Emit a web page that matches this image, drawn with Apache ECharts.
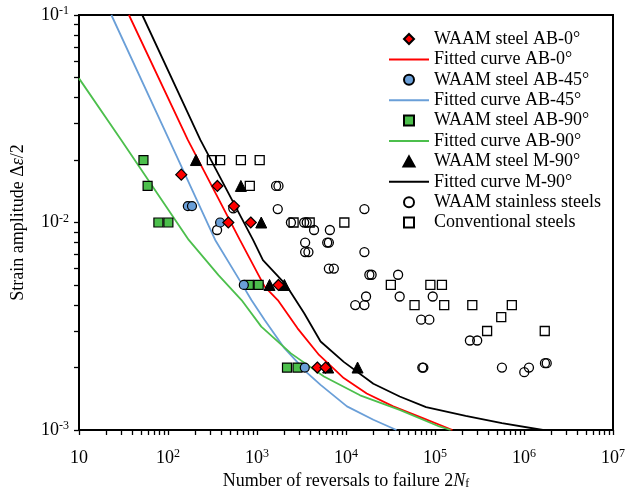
<!DOCTYPE html>
<html>
<head>
<meta charset="utf-8">
<script src="https://cdn.jsdelivr.net/npm/echarts@6/dist/echarts.min.js"></script>
<style>
html,body{margin:0;padding:0;background:#fff;}
#chart{width:628px;height:496px;}
</style>
</head>
<body>
<div id="chart"></div>
<script>
// ---- data (x = number of reversals 2Nf, y = strain amplitude) ----
const ab0Points = [[141,0.017],[359,0.015],[551,0.012],[476,0.01],[851,0.01],[1742,0.005],[4760,0.002],[5890,0.002]];
const ab45Points = [[167,0.012],[186,0.012],[385,0.01],[711,0.005],[3442,0.002]];
const ab90Points = [[53,0.02],[59,0.015],[78,0.01],[101,0.01],[809,0.005],[1044,0.005],[2173,0.002],[2855,0.002]];
const m90Points = [[206,0.02],[659,0.015],[1116,0.01],[1384,0.005],[2031,0.005],[6310,0.002],[13490,0.002]];
const stainlessPoints = [[356,0.0092],[541,0.0117],[1638,0.015],[1743,0.015],[1711,0.0116],[2405,0.01],[3388,0.01],[3620,0.01],
  [4375,0.0092],[6590,0.0092],[3475,0.008],[6150,0.008],[6420,0.008],[3475,0.0072],[3784,0.0072],[16100,0.0072],[16100,0.0116],
  [6420,0.006],[7300,0.006],[18300,0.0056],[19400,0.0056],[38500,0.0056],[16800,0.0044],[40100,0.0044],[94300,0.0044],
  [12700,0.004],[16100,0.004],[69900,0.0034],[86400,0.0034],[246700,0.0027],[298000,0.0027],[72000,0.002],[74000,0.002],
  [565000,0.002],[1007000,0.0019],[1137000,0.002],[1720000,0.0021],[1800000,0.0021]];
const conventionalPoints = [[311,0.02],[385,0.02],[659,0.02],[1072,0.02],[830,0.015],[2577,0.01],[3909,0.01],[9580,0.01],
  [31900,0.005],[88700,0.005],[119600,0.005],[58900,0.004],[126900,0.004],[262400,0.004],[729800,0.004],[555000,0.0035],
  [385000,0.003],[1711000,0.003]];

const fitAB0 = [[36.4,0.1],[167,0.025],[642,0.00824],[1219,0.00491],[1711,0.00423],[2855,0.00309],[4980,0.0023],[9430,0.00178],
  [17100,0.0015],[33900,0.0013],[73000,0.00114],[157000,0.001]];
const fitAB45 = [[23.1,0.1],[103,0.025],[339,0.00824],[670,0.00509],[865,0.00423],[1219,0.00339],[2032,0.00248],[3690,0.00188],
  [5180,0.00165],[10250,0.0013],[20300,0.00112],[36900,0.001]];
const fitAB90 = [[10,0.0495],[29.8,0.025],[171,0.00824],[369,0.00558],[670,0.00423],[1117,0.00315],[2405,0.00234],[5650,0.00181],
  [14400,0.00147],[40100,0.00125],[111700,0.00104],[150000,0.001]];
const fitM90 = [[51.4,0.1],[231,0.025],[903,0.00824],[1166,0.00659],[2120,0.005],[3390,0.00365],[5180,0.00267],[9430,0.00213],
  [20300,0.00167],[40100,0.00145],[79400,0.00129],[221000,0.00117],[565000,0.00108],[1630000,0.001]];

const xMajor = [10,100,1000,10000,100000,1000000,10000000];
const yMajor = [0.001,0.01,0.1];
const minorMult = [2,3,4,5,6,7,8,9];

const names = ['WAAM steel AB-0°','Fitted curve AB-0°','WAAM steel AB-45°','Fitted curve AB-45°',
  'WAAM steel AB-90°','Fitted curve AB-90°','WAAM steel M-90°','Fitted curve M-90°','WAAM stainless steels','Conventional steels'];

// ---- build tick lists ----
function ticksFor(major){
  const out = [];
  for (let i=0;i<major.length;i++){
    out.push(major[i]);
    if (i<major.length-1) minorMult.forEach(m=>out.push(+(major[i]*m).toPrecision(6)));
  }
  return out;
}
const xTicks = ticksFor(xMajor);
const yTicks = ticksFor(yMajor);

const FONT = '"Liberation Serif","Times New Roman",serif';
const RED='#ff0000', BLUE='#6a9fd8', GREEN='#4cbf4c', BLACK='#000000';
const LINE_ICON = 'path://M0,0L40,0L40,2L0,2Z';
const DIAMOND_ICON = 'path://M5,0L10,5L5,10L0,5Z';
const SQUARE_ICON = 'path://M0,0L9,0L9,9L0,9Z';
const TRI_ICON = 'path://M5,0L10,9L0,9Z';
const legendIcons = [DIAMOND_ICON,LINE_ICON,'circle',LINE_ICON,SQUARE_ICON,LINE_ICON,TRI_ICON,LINE_ICON,'circle',SQUARE_ICON];

function expLabel(v){
  const e = Math.round(Math.log10(v));
  if (e===1) return '{b|10}';
  return '{b|10}{s|' + (e<0?'-':'') + Math.abs(e) + '}';
}
const richLbl = {
  b:{fontSize:18,fontFamily:FONT,color:'#000',lineHeight:20},
  s:{fontSize:12,fontFamily:FONT,color:'#000',verticalAlign:'top',lineHeight:12}
};

const chart = echarts.init(document.getElementById('chart'));
const option = {
  animation:false,
  backgroundColor:'#fff',
  grid:{left:79,right:9,top:15,bottom:66,show:true,borderColor:'#000',borderWidth:2,backgroundColor:'transparent'},
  legend:{
    orient:'vertical',left:384,top:25,itemWidth:40,itemHeight:10,itemGap:2.4,
    symbolKeepAspect:true,
    textStyle:{fontSize:18,fontFamily:FONT,color:'#000'},
    data:names.map((n,i)=>({name:n,icon:legendIcons[i]}))
  },
  xAxis:{
    type:'log',min:10,max:10000000,logBase:10,
    axisLine:{show:true,onZero:false,lineStyle:{color:'#000',width:2}},
    axisTick:{show:true,inside:false,length:5,customValues:xTicks,lineStyle:{color:'#000',width:1.3}},
    axisLabel:{customValues:xMajor,margin:18,formatter:expLabel,rich:richLbl},
    splitLine:{show:false},
    name:'{n|Number of reversals to failure 2}{i|N}{f|f}',
    nameLocation:'middle',nameGap:42,
    nameTextStyle:{rich:{
      n:{fontSize:18,fontFamily:FONT,color:'#000'},
      i:{fontSize:18,fontFamily:FONT,color:'#000',fontStyle:'italic'},
      f:{fontSize:12,fontFamily:FONT,color:'#000',verticalAlign:'bottom',padding:[6,0,0,0]}
    }}
  },
  yAxis:{
    type:'log',min:0.001,max:0.1,logBase:10,
    axisLine:{show:true,onZero:false,lineStyle:{color:'#000',width:2}},
    axisTick:{show:true,inside:false,length:5,customValues:yTicks,lineStyle:{color:'#000',width:1.3}},
    axisLabel:{customValues:yMajor,margin:10,formatter:expLabel,rich:richLbl},
    splitLine:{show:false},
    name:'{n|Strain amplitude Δ}{i|ε}{n|/2}',
    nameLocation:'middle',nameGap:52,nameRotate:90,
    nameTextStyle:{rich:{
      n:{fontSize:18,fontFamily:FONT,color:'#000'},
      i:{fontSize:18,fontFamily:FONT,color:'#000',fontStyle:'italic'}
    }}
  },
  series:[
    {name:names[1],type:'line',data:fitAB0,symbol:'none',lineStyle:{color:RED,width:1.8},itemStyle:{color:RED},z:2},
    {name:names[3],type:'line',data:fitAB45,symbol:'none',lineStyle:{color:BLUE,width:1.8},itemStyle:{color:BLUE},z:2},
    {name:names[5],type:'line',data:fitAB90,symbol:'none',lineStyle:{color:GREEN,width:1.8},itemStyle:{color:GREEN},z:2},
    {name:names[7],type:'line',data:fitM90,symbol:'none',lineStyle:{color:BLACK,width:1.8},itemStyle:{color:BLACK},z:2},
    {name:names[8],type:'scatter',data:stainlessPoints,symbol:'circle',symbolSize:9,
      itemStyle:{color:'rgba(255,255,255,0)',borderColor:'#000',borderWidth:1.3,opacity:1},z:3},
    {name:names[9],type:'scatter',data:conventionalPoints,symbol:'rect',symbolSize:9,
      itemStyle:{color:'rgba(255,255,255,0)',borderColor:'#000',borderWidth:1.3,opacity:1},z:3},
    {name:names[4],type:'scatter',data:ab90Points,symbol:'rect',symbolSize:9,
      itemStyle:{color:GREEN,borderColor:'#000',borderWidth:1.2,opacity:1},z:4},
    {name:names[2],type:'scatter',data:ab45Points,symbol:'circle',symbolSize:9,
      itemStyle:{color:BLUE,borderColor:'#000',borderWidth:1.2,opacity:1},z:4},
    {name:names[6],type:'scatter',data:m90Points,symbol:'triangle',symbolSize:11,
      itemStyle:{color:'#000',borderColor:'#000',borderWidth:1,opacity:1},z:4},
    {name:names[0],type:'scatter',data:ab0Points,symbol:'diamond',symbolSize:11,
      itemStyle:{color:RED,borderColor:'#000',borderWidth:1.2,opacity:1},z:5}
  ]
};
chart.setOption(option);
</script>
</body>
</html>
